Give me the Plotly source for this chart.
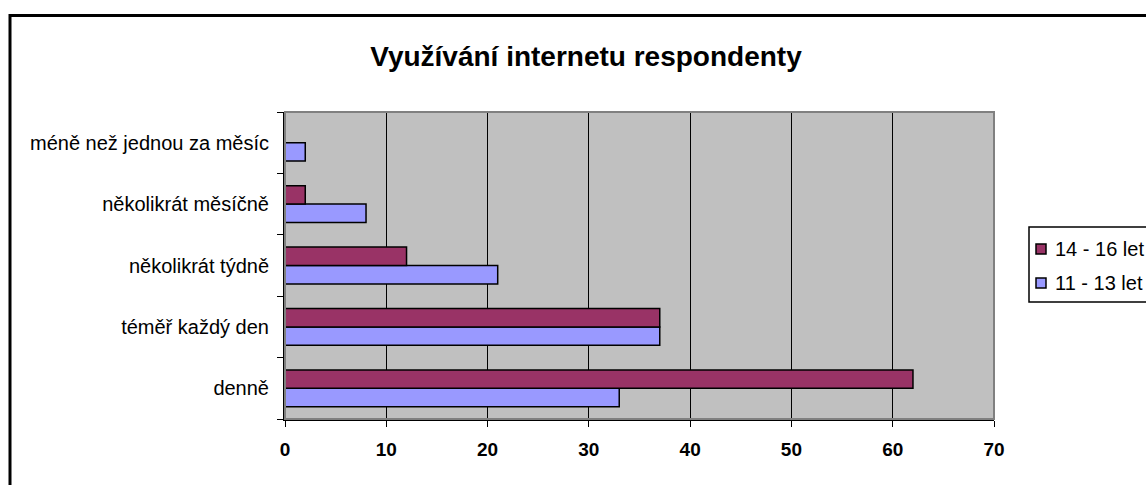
import plotly.graph_objects as go

# categories from bottom to top (plotly draws the first category at the bottom)
categories = ['denně', 'téměř každý den', 'několikrát týdně',
              'několikrát měsíčně', 'méně než jednou za měsíc']
series_names = ['11 - 13 let', '14 - 16 let']
vals_11_13 = [33, 37, 21, 8, 2]
vals_14_16 = [62, 37, 12, 2, 0]
colors = ['#9999FF', '#993366']

W, H = 1146, 485
L, R, T, B = 285, 994, 112, 419

def px_x(p):
    return (p - L) / (R - L)

def px_y(p):
    return (B - p) / (B - T)

fig = go.Figure()
for name, vals, col in zip(series_names, [vals_11_13, vals_14_16], colors):
    fig.add_trace(go.Bar(y=categories, x=vals, name=name, orientation='h',
                         marker=dict(color=col, line=dict(color='black', width=1.5))))

# outer chart frame, drawn in paper coords so it can sit outside the plot area
fig.add_shape(type='rect', xref='paper', yref='paper',
              x0=px_x(10), x1=px_x(1170), y0=px_y(510), y1=px_y(15.5),
              line=dict(color='black', width=3), layer='below')
# grey plot area border (Excel style), black axes drawn on top
fig.add_shape(type='rect', xref='paper', yref='paper', x0=0, x1=1, y0=0, y1=1,
              line=dict(color='#808080', width=2), layer='above')

# legend drawn by hand so it can run off the right edge like the original
fig.add_shape(type='rect', xref='paper', yref='paper',
              x0=px_x(1029), x1=px_x(1175), y0=px_y(302), y1=px_y(227),
              line=dict(color='black', width=1.5), fillcolor='white', layer='above')
legend_rows = [(series_names[1], colors[1], 249), (series_names[0], colors[0], 283)]
for name, col, yc in legend_rows:
    fig.add_shape(type='rect', xref='paper', yref='paper',
                  x0=px_x(1036), x1=px_x(1046), y0=px_y(yc + 5), y1=px_y(yc - 5),
                  line=dict(color='black', width=1.5), fillcolor=col, layer='above')
    fig.add_annotation(text=name, xref='paper', yref='paper', x=px_x(1053), y=px_y(yc),
                       xanchor='left', yanchor='middle', showarrow=False,
                       font=dict(size=20))

fig.update_layout(
    width=W, height=H,
    margin=dict(l=L, r=W - R, t=T, b=H - B, autoexpand=False),
    paper_bgcolor='white',
    plot_bgcolor='#C0C0C0',
    font=dict(family='Liberation Sans, Arial', size=20, color='black'),
    title=dict(text='<b>Využívání internetu respondenty</b>', x=(586 / W), xanchor='center',
               y=1 - 56 / H, yanchor='middle', font=dict(size=28)),
    barmode='group',
    bargap=0.4,
    bargroupgap=0,
    showlegend=False,
)

fig.update_xaxes(range=[0, 70], dtick=10, showgrid=True, gridcolor='black', gridwidth=1,
                 ticks='outside', ticklen=6, tickcolor='black', showline=True,
                 linecolor='black', linewidth=2, zeroline=False,
                 tickfont=dict(size=19), ticklabelstandoff=6,
                 tickprefix='<b>', ticksuffix='</b>', fixedrange=True)
fig.update_yaxes(type='category', ticks='outside', ticklen=6, tickcolor='black',
                 tickson='boundaries', showline=True, linecolor='black', linewidth=2,
                 showgrid=False, ticklabelstandoff=10, fixedrange=True)

fig.write_html('out.html', config={'displayModeBar': False},
               post_script="document.body.style.margin='0';")
